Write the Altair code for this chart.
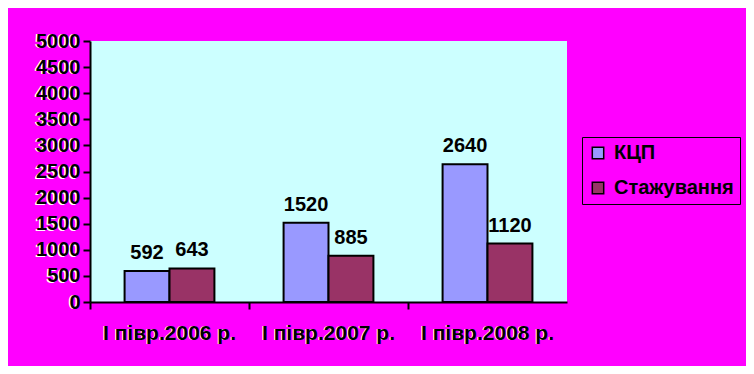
import altair as alt
import pandas as pd

categories = ["I півр.2006 р.", "I півр.2007 р.", "I півр.2008 р."]
series = ["КЦП", "Стажування"]
kcp = [592, 1520, 2640]
staz = [643, 885, 1120]
colors = ["#9999FF", "#993366"]
y_ticks = [0, 500, 1000, 1500, 2000, 2500, 3000, 3500, 4000, 4500, 5000]

rows = []
for i, c in enumerate(categories):
    rows.append({"cat": c, "series": series[0], "value": kcp[i]})
    rows.append({"cat": c, "series": series[1], "value": staz[i]})
df = pd.DataFrame(rows)
df_yt = pd.DataFrame({"value": y_ticks})
df_xt = pd.DataFrame({"cat": categories})

FONT = "Liberation Sans"
W, H = 477, 261

x_axis = alt.Axis(labelAngle=0, bandPosition=0, labelFont=FONT, labelFontSize=21,
                  labelFontWeight="bold", labelColor="black", labelPadding=13,
                  domainColor="black", domainWidth=2, tickColor="black",
                  tickWidth=2, tickSize=7, grid=False, zindex=1)
x = alt.X("cat:N", sort=categories, title=None,
          scale=alt.Scale(paddingInner=0, paddingOuter=0), axis=x_axis)
xo = alt.XOffset("series:N", sort=series,
                 scale=alt.Scale(paddingInner=0, paddingOuter=0.77))
y_axis = alt.Axis(values=y_ticks, format="d", labelFont=FONT,
                  labelFontSize=20, labelFontWeight="bold", labelColor="black",
                  labelPadding=3, domainColor="black", domainWidth=2,
                  tickColor="black", tickWidth=2, tickSize=7, grid=False, zindex=1)
y = alt.Y("value:Q", title=None,
          scale=alt.Scale(domain=[0, 5000], nice=False), axis=y_axis)

bars = alt.Chart(df).mark_bar(stroke="black", strokeWidth=2).encode(
    x=x, xOffset=xo, y=y,
    color=alt.Color("series:N", sort=series,
                    scale=alt.Scale(domain=series, range=colors),
                    legend=alt.Legend(title=None, orient="none", legendX=492, legendY=96,
                                      labelFont=FONT, labelFontSize=20, labelFontWeight="bold",
                                      labelColor="black", symbolType="square", symbolSize=130,
                                      symbolStrokeColor="black", symbolStrokeWidth=1.5,
                                      symbolOpacity=1,
                                      strokeColor="black", fillColor="#FF00FF",
                                      padding=6, rowPadding=15, labelOffset=6))
)

labels = alt.Chart(df).mark_text(font=FONT, fontSize=20, fontWeight="bold", color="black",
                                 baseline="bottom", dy=-8).encode(
    x=x, xOffset=xo, y=y, text="value:Q"
)

# white emboss shadow behind the axis labels
y_shadow = alt.Chart(df_yt).mark_text(font=FONT, fontSize=20, fontWeight="bold",
                                      color="white", align="right", baseline="middle",
                                      dx=-1, dy=1).encode(
    x=alt.value(-10), y=y, text=alt.Text("value:Q", format="d")
)
x_shadow = alt.Chart(df_xt).mark_text(font=FONT, fontSize=21, fontWeight="bold",
                                      color="white", align="center", baseline="top",
                                      dx=-1, dy=1).encode(
    x=x, y=alt.value(H + 7 + 13), text="cat:N"
)

chart = alt.layer(bars, labels, y_shadow, x_shadow).properties(
    width=W, height=H,
    background="#FF00FF",
    autosize=alt.AutoSizeParams(type="none"),
    padding={"left": 82, "top": 33, "right": 179, "bottom": 64},
).configure_view(fill="#CCFFFF", stroke=None)

chart.save("out.html", embed_options={"renderer": "svg", "actions": False})
